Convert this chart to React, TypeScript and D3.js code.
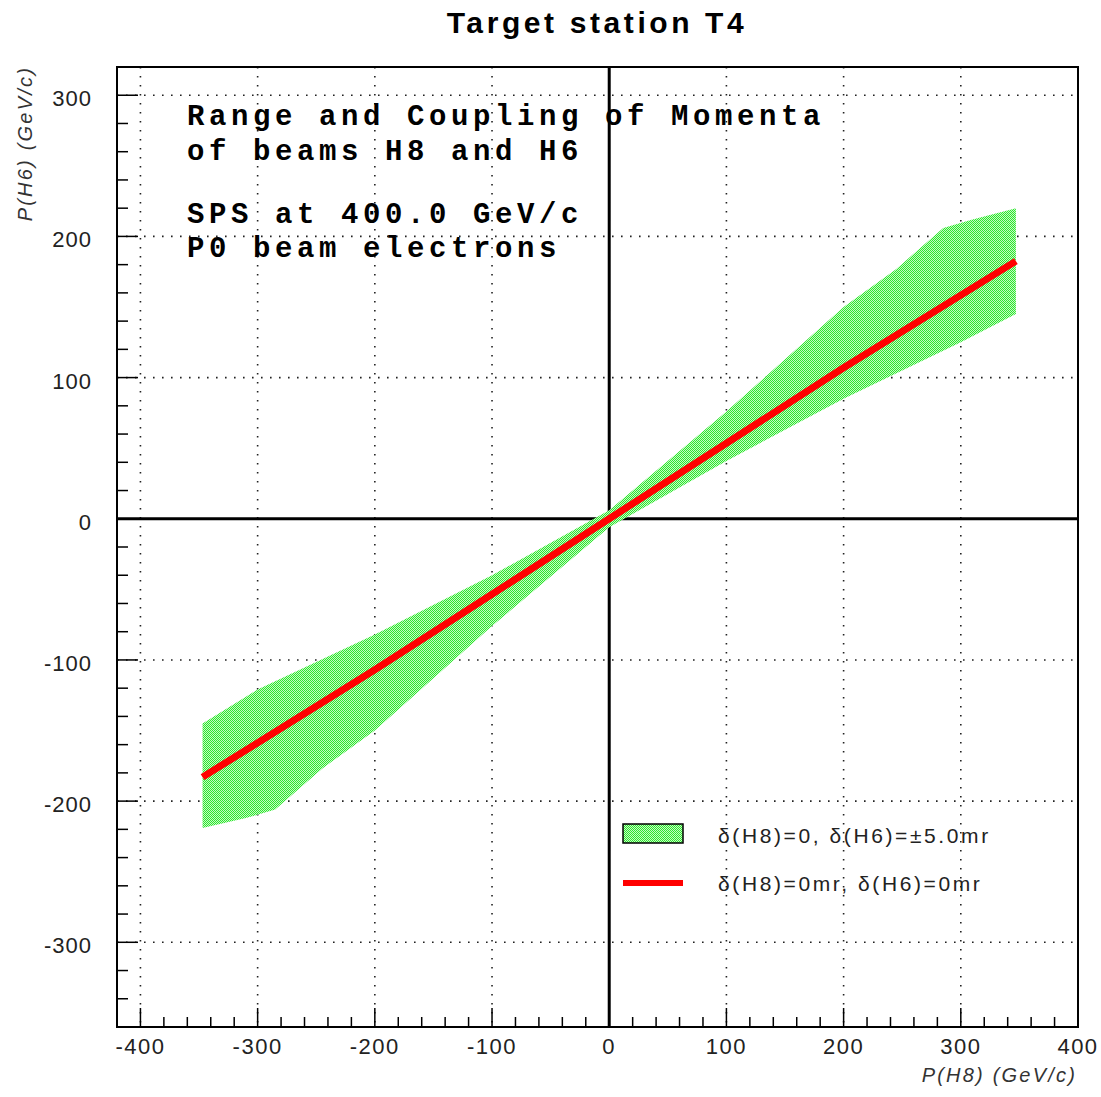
import React from "react";
import * as d3 from "d3";

const W = 1101;
const H = 1097;
const frame = { left: 117, right: 1078, top: 67, bottom: 1027 };

const xDomain = [-420, 400];
const yDomain = [-360, 320];
const xTickValues = [-400, -300, -200, -100, 0, 100, 200, 300, 400];
const yTickValues = [-300, -200, -100, 0, 100, 200, 300];

// band delta(H6) = +-5 mr : upper and lower edges
const bandUpperX = [-347, -300, -200, -100, 0, 100, 200, 245, 285, 310, 347];
const bandUpperY = [-145, -121, -82, -40, 6, 76, 150, 177, 206, 212, 220];
const bandLowerX = [-347, -310, -285, -245, -200, -100, 0, 100, 200, 300, 347];
const bandLowerY = [-219, -212, -206, -177, -150, -76, -6, 41, 85, 125, 145];

// central coupling delta = 0
const centralX = [-347, -200, -100, 0, 100, 200, 347];
const centralY = [-183, -107, -53.5, 0, 53.5, 107, 182.5];

const title = "Target station T4";
const noteLines = [
  "Range and Coupling of Momenta",
  "of beams H8 and H6",
  "",
  "SPS at 400.0 GeV/c",
  "P0 beam electrons",
];
const noteBaselines = [125, 160, 0, 223, 257];
const legendLabels = ["δ(H8)=0, δ(H6)=±5.0mr", "δ(H8)=0mr, δ(H6)=0mr"];
const xTitle = "P(H8) (GeV/c)";
const yTitle = "P(H6) (GeV/c)";

export default function App() {
  const x = d3.scaleLinear().domain(xDomain).range([frame.left, frame.right]);
  const y = d3.scaleLinear().domain(yDomain).range([frame.bottom, frame.top]);

  const minorX = d3.range(-420, 401, 20).filter(v => v % 100 !== 0 && v > xDomain[0]);
  const minorY = d3.range(-360, 321, 20).filter(v => v % 100 !== 0 && v > yDomain[0] && v < yDomain[1]);

  const line = d3.line<[number, number]>().x(d => x(d[0])).y(d => y(d[1]));

  const upper = bandUpperX.map((v, i) => [v, bandUpperY[i]] as [number, number]);
  const lower = bandLowerX.map((v, i) => [v, bandLowerY[i]] as [number, number]);
  const bandPath = line([...upper, ...lower.slice().reverse()]) + "Z";
  const centralPath = line(centralX.map((v, i) => [v, centralY[i]] as [number, number]));

  const tickFont = "'Liberation Sans', Arial, sans-serif";
  const monoFont = "'Liberation Mono', 'Courier New', monospace";

  return (
    <div style={{ position: "absolute", left: 0, top: 0, background: "#fff" }}>
      <svg width={W} height={H} style={{ display: "block" }}>
        <defs>
          <pattern id="greenDots" width="2" height="2" patternUnits="userSpaceOnUse">
            <rect width="2" height="2" fill="#c4fac4" />
            <rect width="1" height="1" fill="#2ee62e" />
            <rect x="1" y="1" width="1" height="1" fill="#2ee62e" />
          </pattern>
        </defs>

        {/* title */}
        <text x={597} y={33} textAnchor="middle" fontFamily={tickFont} fontWeight="bold" fontSize={30}
          letterSpacing={3.6}>
          {title}
        </text>

        {/* grid */}
        <g stroke="#222" strokeWidth={1.6} strokeDasharray="1.6 7.4">
          {xTickValues.map(t => (
            <line key={"gx" + t} x1={x(t)} x2={x(t)} y1={frame.top} y2={frame.bottom} />
          ))}
          {yTickValues.map(t => (
            <line key={"gy" + t} x1={frame.left} x2={frame.right} y1={y(t)} y2={y(t)} />
          ))}
        </g>

        {/* zero axes */}
        <line x1={x(0)} x2={x(0)} y1={frame.top} y2={frame.bottom} stroke="#000" strokeWidth={3} />
        <line x1={frame.left} x2={frame.right} y1={y(0)} y2={y(0)} stroke="#000" strokeWidth={3} />

        {/* band */}
        <path d={bandPath} fill="url(#greenDots)" />

        {/* central line */}
        <path d={centralPath ?? ""} fill="none" stroke="#ff0000" strokeWidth={7} />

        {/* frame */}
        <rect x={frame.left} y={frame.top} width={frame.right - frame.left} height={frame.bottom - frame.top}
          fill="none" stroke="#000" strokeWidth={2} />

        {/* ticks */}
        <g stroke="#000" strokeWidth={1.5}>
          {xTickValues.map(t => (
            <line key={"xt" + t} x1={x(t)} x2={x(t)} y1={frame.bottom} y2={frame.bottom - 19} />
          ))}
          {minorX.map(t => (
            <line key={"xm" + t} x1={x(t)} x2={x(t)} y1={frame.bottom} y2={frame.bottom - 10} />
          ))}
          {yTickValues.map(t => (
            <line key={"yt" + t} x1={frame.left} x2={frame.left + 21} y1={y(t)} y2={y(t)} />
          ))}
          {minorY.map(t => (
            <line key={"ym" + t} x1={frame.left} x2={frame.left + 11} y1={y(t)} y2={y(t)} />
          ))}
        </g>

        {/* tick labels */}
        <g fontFamily={tickFont} fontSize={22} fill="#222">
          {xTickValues.map(t => (
            <text key={"xl" + t} x={x(t)} y={frame.bottom + 27} textAnchor="middle" letterSpacing={1.5}>
              {t}
            </text>
          ))}
          {yTickValues.map(t => (
            <text key={"yl" + t} x={92} y={y(t) + 11} textAnchor="end" letterSpacing={1}>
              {t}
            </text>
          ))}
        </g>

        {/* axis titles */}
        <text x={1077} y={1082} textAnchor="end" fontFamily={tickFont} fontStyle="italic" fontSize={20}
          fill="#333" letterSpacing={2.2}>
          {xTitle}
        </text>
        <text transform="translate(32,66) rotate(-90)" textAnchor="end" fontFamily={tickFont}
          fontStyle="italic" fontSize={20} fill="#333" letterSpacing={2.2}>
          {yTitle}
        </text>

        {/* annotation */}
        <g fontFamily={monoFont} fontWeight="bold" fontSize={29} fill="#000" letterSpacing={4.6}>
          {noteLines.map((s, i) => (
            s ? (
              <text key={"n" + i} x={187} y={noteBaselines[i]}>{s}</text>
            ) : null
          ))}
        </g>

        {/* legend */}
        <rect x={623} y={824} width={60} height={19} fill="url(#greenDots)" stroke="#000" strokeWidth={1.5} />
        <line x1={623} x2={683} y1={883} y2={883} stroke="#ff0000" strokeWidth={6} />
        <g fontFamily={tickFont} fontSize={21} fill="#222" letterSpacing={2.6}>
          <text x={718} y={843}>{legendLabels[0]}</text>
          <text x={718} y={891}>{legendLabels[1]}</text>
        </g>
      </svg>
    </div>
  );
}
